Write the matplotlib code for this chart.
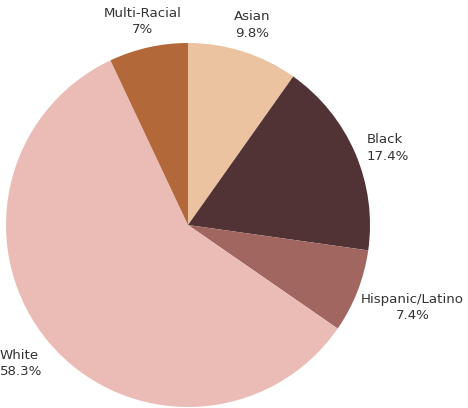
import numpy as np
import matplotlib
matplotlib.use('Agg')
from matplotlib import pyplot as plt

categories = ['Asian', 'Black', 'Hispanic/Latino', 'White', 'Multi-Racial']
values = [9.8, 17.4, 7.4, 58.3, 7.0]
pct_labels = ['9.8%', '17.4%', '7.4%', '58.3%', '7%']
colors = ['#ecc3a0', '#523335', '#a0665f', '#ebbcb5', '#b3683a']

# label placement: distance from centre, horizontal/vertical anchor, line alignment
label_dist = [1.153, 1.07, 1.02, 1.05, 1.145]
label_ha = ['center', 'left', 'left', 'right', 'center']
label_va = ['center', 'center', 'top', 'top', 'center']
label_ma = ['center', 'left', 'center', 'left', 'center']

fig = plt.figure(figsize=(4.68, 4.08), dpi=100)
ax = fig.add_axes([0, 0, 1, 1])

wedges, _ = ax.pie(values, colors=colors, startangle=90, counterclock=False,
                   radius=1, wedgeprops=dict(linewidth=0))

r_px = 182
ax.set_xlim(-188 / r_px, (468 - 188) / r_px)
ax.set_ylim(-183 / r_px, (408 - 183) / r_px)
ax.set_aspect('equal')
ax.axis('off')

for i, w in enumerate(wedges):
    ang = np.deg2rad((w.theta1 + w.theta2) / 2)
    k = label_dist[i]
    ax.text(k * np.cos(ang), k * np.sin(ang), categories[i] + '\n' + pct_labels[i],
            ha=label_ha[i], va=label_va[i], multialignment=label_ma[i],
            fontsize=9.6, color='#333333', linespacing=1.35)

fig.savefig('out.png', dpi=100)
